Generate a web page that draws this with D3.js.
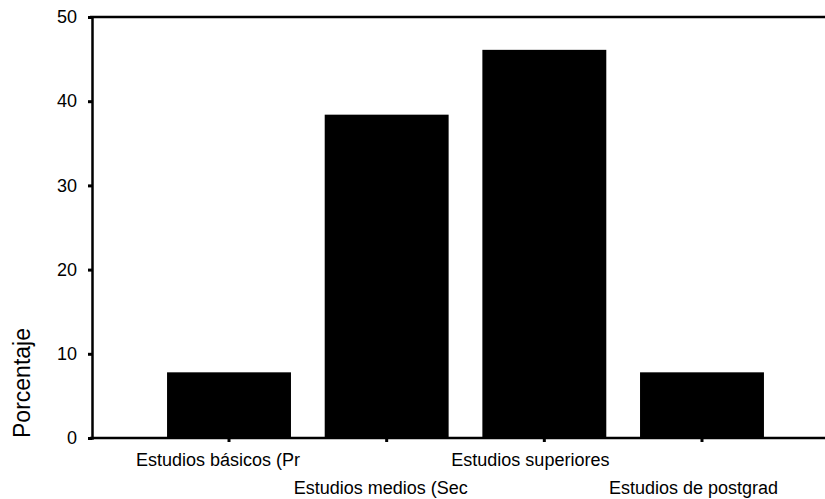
<!DOCTYPE html>
<html><head><meta charset="utf-8">
<script src="https://cdn.jsdelivr.net/npm/d3@7"></script>
<style>body{margin:0;background:#fff}svg{display:block}text{font-family:"Liberation Sans",Arial,sans-serif;fill:#000}</style>
</head><body><svg id="c" width="825" height="499"></svg>
<script>
const categories = ["Estudios básicos (Pr","Estudios medios (Sec","Estudios superiores","Estudios de postgrad"];
const values = [7.8, 38.4, 46.1, 7.8];
const yTicks = [0,10,20,30,40,50];

(function(){
const svg = d3.select("#c");
const mLeft = 92, mRight = 825, mTop = 17, mBottom = 438;
const x = d3.scaleBand().domain(categories).range([mLeft, 839]).paddingInner(0.214).paddingOuter(0.476);
const y = d3.scaleLinear().domain([0,50]).range([mBottom, mTop]);

svg.append("g").selectAll("rect").data(values).join("rect")
  .attr("x",(d,i)=>x(categories[i])).attr("width",x.bandwidth())
  .attr("y",d=>y(d)).attr("height",d=>y(0)-y(d)).attr("fill","#000");

svg.append("line").attr("x1",mLeft-2).attr("x2",mRight).attr("y1",mTop).attr("y2",mTop).attr("stroke","#000").attr("stroke-width",2.5);
svg.append("line").attr("x1",mLeft-2).attr("x2",mRight).attr("y1",mBottom).attr("y2",mBottom).attr("stroke","#000").attr("stroke-width",2.5);

const ya = svg.append("g").attr("transform",`translate(${mLeft},0)`)
  .call(d3.axisLeft(y).tickValues(yTicks).tickSize(4).tickPadding(11));
ya.select(".domain").attr("stroke-width",2.5);
ya.selectAll(".tick line").attr("stroke-width",3);
ya.selectAll(".tick text").attr("font-size","18px").attr("font-family","Liberation Sans, Arial, sans-serif");

const xa = svg.append("g").attr("transform",`translate(0,${mBottom})`)
  .call(d3.axisBottom(x).tickSize(4).tickPadding(0));
xa.select(".domain").remove();
xa.selectAll(".tick line").attr("stroke-width",3);
xa.selectAll(".tick text").attr("font-size","18px").attr("font-family","Liberation Sans, Arial, sans-serif")
  .attr("text-anchor","start").attr("x",-93)
  .attr("dy","0").attr("y",(d,i)=> i%2===0 ? 28 : 56);

svg.append("text").attr("transform","translate(29.5,383) rotate(-90)")
  .attr("text-anchor","middle").attr("font-size","23px").text("Porcentaje");
})();
</script></body></html>
